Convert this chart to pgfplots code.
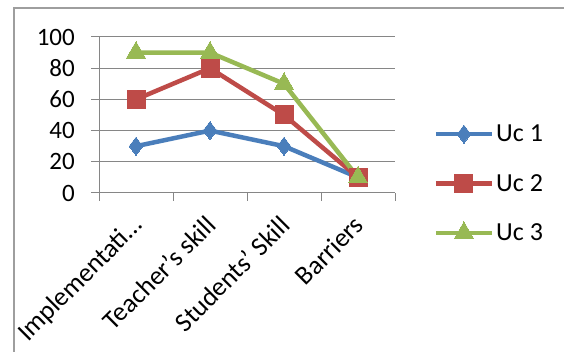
\documentclass[border=0pt]{standalone}
\usepackage{pgfplots}
\pgfplotsset{compat=1.18}
\usepackage{fontspec}
\setmainfont{Carlito}
\definecolor{cblue}{HTML}{4A7EBB}
\definecolor{cred}{HTML}{BE4B48}
\definecolor{cgreen}{HTML}{98B954}
\definecolor{cgrid}{HTML}{868686}
\begin{document}
\begin{tikzpicture}[x=1pt,y=1pt]
\useasboundingbox (0,0) rectangle (564,352);
\draw[color=cgrid!80, line width=1.5pt] (14,-10) -- (14,344) -- (580,344);
\begin{axis}[
  at={(99pt,159pt)}, anchor=origin,
  scale only axis, width=296pt, height=156pt,
  xmin=0.5, xmax=4.5, ymin=0, ymax=100,
  ytick={0,20,...,100},
  xtick={1,2,3,4},
  xticklabels={{Implementati\dots\hspace{-26pt}}, Teacher's skill, Students' Skill, Barriers},
  minor xtick={0.5,1.5,2.5,3.5,4.5},
  major x tick style={draw=none},
  minor tick length=8pt, major tick length=8pt,
  tick align=outside,
  axis lines*=left,
  axis line style={cgrid, line width=1pt},
  every tick/.style={cgrid, line width=1pt},
  ymajorgrids, grid style={cgrid, line width=1pt},
  /pgf/number format/assume math mode=true,
  yticklabel style={font=\fontsize{25}{30}\selectfont, inner sep=2pt, xshift=-14pt},
  xticklabel style={font=\fontsize{26.5}{32}\selectfont, rotate=45, anchor=north east, inner sep=0pt, xshift=-13pt, yshift=-5pt},
  legend style={at={(1.13,0.45)}, anchor=north west, draw=none, fill=none,
    font=\fontsize{26}{30}\selectfont, row sep=27pt, inner sep=0pt},
  legend cell align=left,
  legend image code/.code={
    \draw[#1, mark=none] (0pt,0pt) -- (56pt,0pt);
    \draw[#1, line width=0pt] plot coordinates {(28pt,0pt)};
  },
  clip=false,
]
\addplot[cblue, line width=4.5pt, mark=diamond*, mark size=9pt, mark options={line width=0pt}] coordinates {(1,30) (2,40) (3,30) (4,10)};
\addlegendentry{Uc 1}
\addplot[cred, line width=4.5pt, mark=square*, mark size=9pt, mark options={line width=0pt}] coordinates {(1,60) (2,80) (3,50) (4,10)};
\addlegendentry{Uc 2}
\addplot[cgreen, line width=4.5pt, mark=triangle*, mark size=11pt, mark options={line width=0pt}] coordinates {(1,90) (2,90) (3,70) (4,10)};
\addlegendentry{Uc 3}
\end{axis}
\end{tikzpicture}
\end{document}
